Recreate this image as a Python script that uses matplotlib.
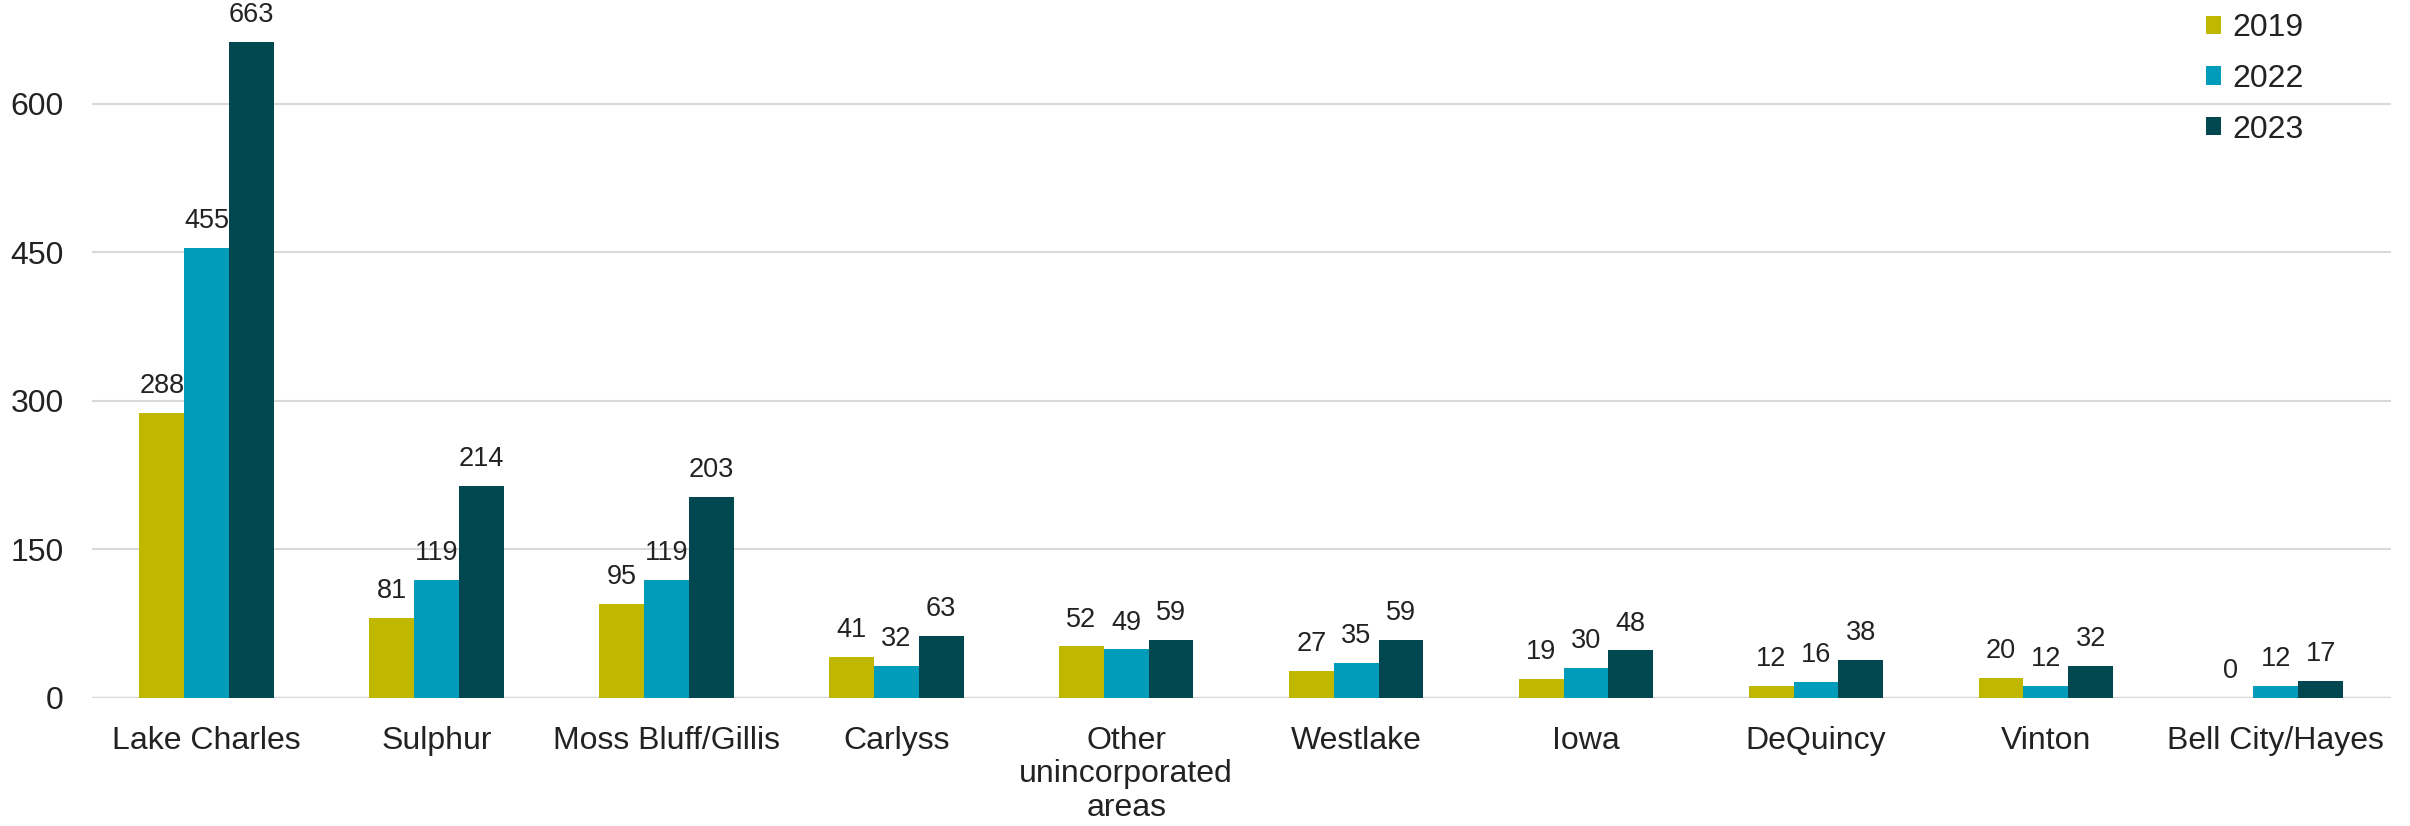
import matplotlib
matplotlib.use("Agg")
import matplotlib.pyplot as plt
import numpy as np

categories = ["Lake Charles", "Sulphur", "Moss Bluff/Gillis", "Carlyss",
              "Other\nunincorporated\nareas", "Westlake", "Iowa", "DeQuincy",
              "Vinton", "Bell City/Hayes"]
years = ["2019", "2022", "2023"]
v2019 = [288, 81, 95, 41, 52, 27, 19, 12, 20, 0]
v2022 = [455, 119, 119, 32, 49, 35, 30, 16, 12, 12]
v2023 = [663, 214, 203, 63, 59, 59, 48, 38, 32, 17]
yticks = [0, 150, 300, 450, 600]

colors = ["#C0B800", "#009CBA", "#00474F"]

plt.rcParams["font.family"] = ["Liberation Sans", "DejaVu Sans"]

fig = plt.figure(figsize=(24.1, 8.26), dpi=100)
ax = fig.add_axes([0.038, 0.155, 0.954, 0.845])

x = np.arange(len(categories))
w = 0.195
series = [v2019, v2022, v2023]
for i, (vals, c, lab) in enumerate(zip(series, colors, years)):
    bars = ax.bar(x + (i - 1) * w, vals, width=w, color=c, label=lab, zorder=3)
    ax.bar_label(bars, labels=[str(v) for v in vals], padding=10, fontsize=19.5,
                 color="#222222")

ax.set_xlim(-0.5, len(categories) - 0.5)
ax.set_ylim(0, 705)
ax.set_yticks(yticks)
ax.set_yticklabels([str(t) for t in yticks])
ax.set_xticks(x)
ax.set_xticklabels(categories, linespacing=1.15)
ax.yaxis.grid(True, color="#D9D9D9", linewidth=1.5, zorder=0)
ax.axhline(0, color="#D9D9D9", linewidth=2.5, zorder=2)
for s in ax.spines.values():
    s.set_visible(False)
ax.tick_params(axis="both", length=0, labelsize=23, colors="#222222")
ax.tick_params(axis="y", pad=20)
ax.tick_params(axis="x", pad=20)

leg = fig.legend(loc="upper left", bbox_to_anchor=(0.9125, 0.992), frameon=False,
                 fontsize=23, handlelength=0.5, handleheight=0.5, handletextpad=0.35,
                 labelspacing=0.65, borderaxespad=0.0, borderpad=0.2)
for t in leg.get_texts():
    t.set_color("#222222")

fig.savefig("out.png", dpi=100, facecolor="white")
